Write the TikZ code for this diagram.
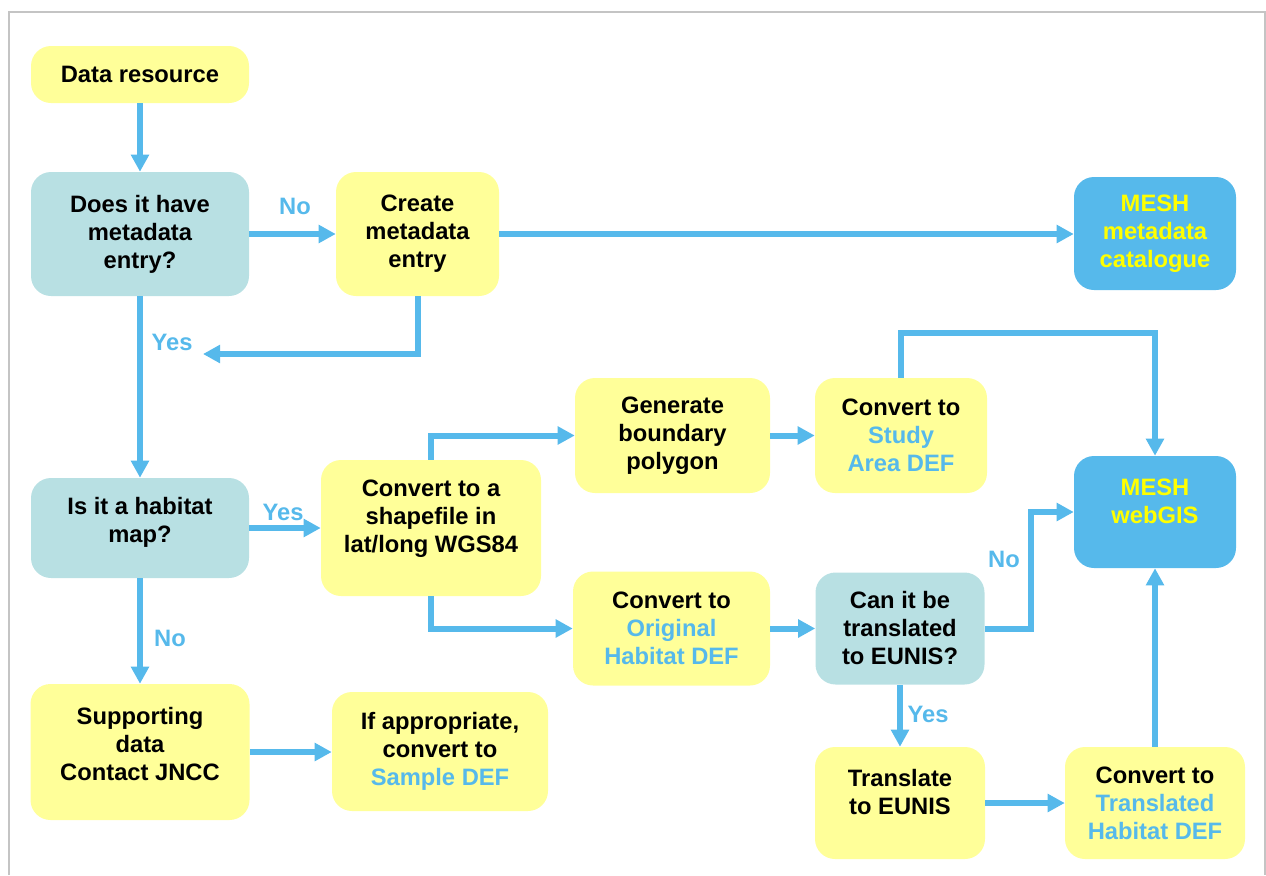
\documentclass[tikz,border=0pt]{standalone}
\usepackage{fontspec}
\setmainfont{Liberation Sans}
\usetikzlibrary{arrows.meta}
\definecolor{fyel}{HTML}{FFFF99}
\definecolor{fteal}{HTML}{B8E0E3}
\definecolor{fblue}{HTML}{56B9EB}
\definecolor{ablue}{HTML}{56B9EB}
\definecolor{tyel}{HTML}{FFFF00}
\definecolor{framegray}{HTML}{C4C4C4}
\begin{document}
\begin{tikzpicture}[x=0.75pt,y=-0.75pt,
  bfont/.style={font=\bfseries\fontsize{17.8}{21}\selectfont},
  box/.style={rounded corners=15pt, inner sep=0pt, align=center, bfont},
  ybox/.style={box, fill=fyel},
  tbox/.style={box, fill=fteal},
  bbox/.style={box, fill=fblue, text=tyel},
  txt/.style={align=center, inner sep=0pt, bfont},
  arr/.style={draw=ablue, line width=4.5pt, -{Triangle[length=12.75pt,width=13pt]}},
  lab/.style={text=ablue, inner sep=0pt, bfont}
]
\useasboundingbox (0,0) rectangle (1266,875);
\draw[framegray, line width=1pt] (9,875) -- (9,12) -- (1265,12) -- (1265,875);

% nodes
\node[ybox, minimum width=163.5pt, minimum height=42.75pt] (dr) at (140,74.5) {Data resource};
\node[tbox, minimum width=163.5pt, minimum height=93pt] (meta) at (140,234) {Does it have\\metadata\\entry?};
\node[ybox, minimum width=122.25pt, minimum height=93pt] (create) at (417.5,234) {Create\\metadata\\entry};
\node[bbox, minimum width=121.5pt, minimum height=84.75pt] (cat) at (1155,233.5) {MESH\\metadata\\catalogue};
\node[tbox, minimum width=163.5pt, minimum height=75pt] (hab) at (140,528) {};
\node[txt] (habt) at (140,522) {Is it a habitat\\map?};
\node[ybox, minimum width=165pt, minimum height=102pt] (shp) at (431,528) {};
\node[txt] (shpt) at (431,519) {Convert to a\\shapefile in\\lat/long WGS84};
\node[ybox, minimum width=146.25pt, minimum height=86.25pt] (gen) at (672.5,435.5) {Generate\\boundary\\polygon};
\node[ybox, minimum width=129pt, minimum height=86.25pt] (study) at (901,435.5) {Convert to\\\textcolor{ablue}{Study}\\\textcolor{ablue}{Area DEF}};
\node[bbox, minimum width=121.5pt, minimum height=84pt] (web) at (1155,512) {};
\node[txt, text=tyel] (webt) at (1155,501) {MESH\\webGIS};
\node[ybox, minimum width=147.75pt, minimum height=85.5pt] (orig) at (671.5,628.5) {Convert to\\\textcolor{ablue}{Original}\\\textcolor{ablue}{Habitat DEF}};
\node[tbox, minimum width=126.75pt, minimum height=84pt] (can) at (900,628.5) {Can it be\\translated\\to EUNIS?};
\node[ybox, minimum width=164.25pt, minimum height=102pt] (sup) at (140,752) {};
\node[txt] (supt) at (140,744) {Supporting\\data\\Contact JNCC};
\node[ybox, minimum width=162pt, minimum height=89.25pt] (samp) at (440,751.5) {If appropriate,\\convert to\\\textcolor{ablue}{Sample DEF}};
\node[ybox, minimum width=127.5pt, minimum height=84pt] (tr) at (900,803) {};
\node[txt] (trt) at (900,792) {Translate\\to EUNIS};
\node[ybox, minimum width=135pt, minimum height=84pt] (trh) at (1155,803) {Convert to\\\textcolor{ablue}{Translated}\\\textcolor{ablue}{Habitat DEF}};

\coordinate (yesend) at (203,354);

% connectors
\draw[arr] (dr.south) -- (dr.south |- meta.north);
\draw[arr] (meta.east) -- (create.west |- meta.east);
\draw[arr] (create.east) -- (cat.west |- create.east);
\draw[arr] (create.south) |- (yesend);
\draw[arr] (meta.south) -- (meta.south |- hab.north);
\draw[arr] (hab.east) -- (shp.west |- hab.east);
\draw[arr] (shp.north) |- (gen.west);
\draw[arr] (shp.south) |- (orig.west);
\draw[arr] (gen.east) -- (study.west |- gen.east);
\draw[arr] (study.north) -- ++(0,-45) -| (web.north);
\draw[arr] (orig.east) -- (can.west |- orig.east);
\draw[arr] (can.east) -- ++(46,0) |- (web.west);
\draw[arr] (can.south) -- (can.south |- tr.north);
\draw[arr] (tr.east) -- (trh.west |- tr.east);
\draw[arr] (trh.north) -- (trh.north |- web.south);
\draw[arr] (hab.south) -- (hab.south |- sup.north);
\draw[arr] (sup.east) -- (samp.west |- sup.east);

% labels
\node[lab] (lno1) at (295,206) {No};
\node[lab] (lyes1) at (172,342) {Yes};
\node[lab] (lyes2) at (283,512) {Yes};
\node[lab] (lno2) at (170,638) {No};
\node[lab] (lno3) at (1004,559) {No};
\node[lab] (lyes3) at (928,714) {Yes};
\end{tikzpicture}
\end{document}
